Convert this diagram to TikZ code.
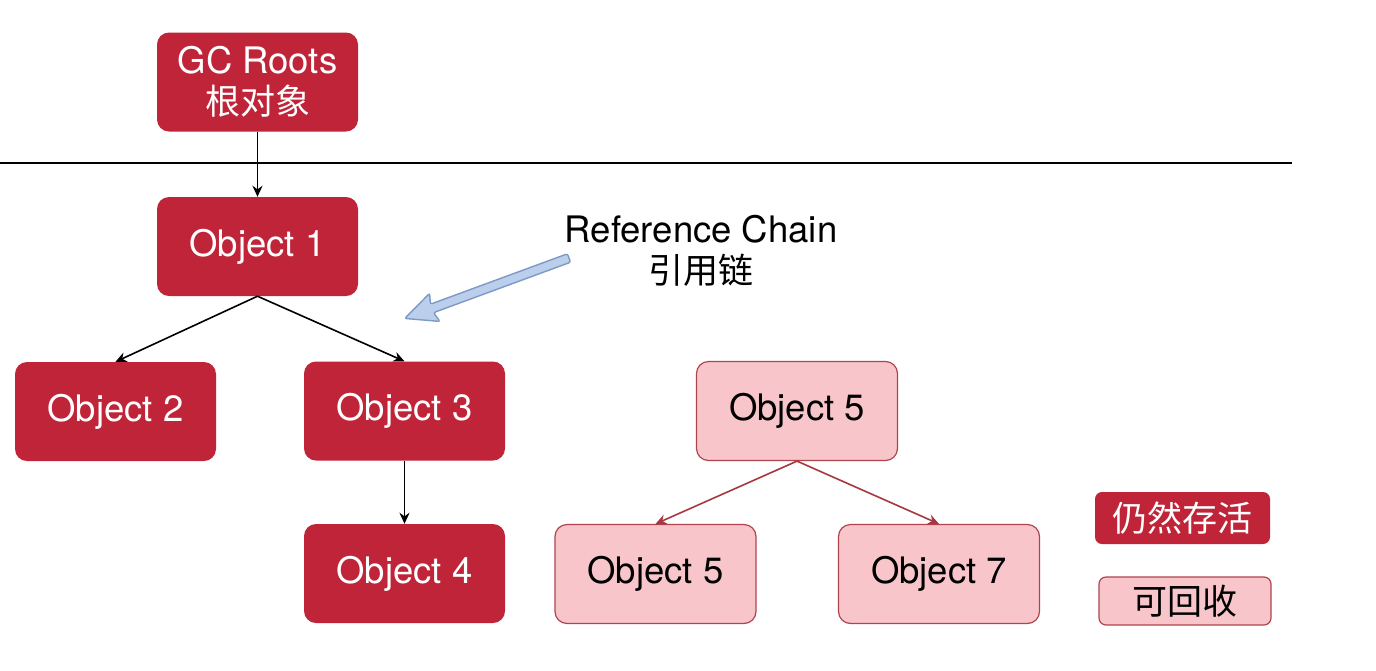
\documentclass[tikz,border=0pt]{standalone}
\usepackage{fontspec}
\setmainfont{TeX Gyre Heros}
\newfontfamily\cjk{Noto Sans CJK SC}
\usetikzlibrary{arrows.meta}
\definecolor{live}{HTML}{C02438}
\definecolor{deadfill}{HTML}{F8C6CA}
\definecolor{deadline}{HTML}{B0444C}
\definecolor{deadarrow}{HTML}{A8383F}
\definecolor{chainfill}{HTML}{BBCEEC}
\definecolor{chainline}{HTML}{7D99C6}
\tikzset{
  livebox/.style={fill=live, draw=none, rounded corners=12pt, text=white,
    minimum width=201pt, minimum height=99pt, inner sep=0pt, align=center,
    font=\fontsize{36.5}{41}\selectfont},
  deadbox/.style={fill=deadfill, draw=deadline, line width=1.2pt, rounded corners=12pt, text=black,
    minimum width=201pt, minimum height=99pt, inner sep=0pt, align=center,
    font=\fontsize{36.5}{41}\selectfont},
  legfont/.style={font=\cjk\fontsize{35}{40}\selectfont},
  blkarrow/.style={draw=black, line width=1.6pt, -{Stealth[length=11pt,width=10pt]}},
  pinkarrow/.style={draw=deadarrow, line width=1.6pt, -{Stealth[length=11pt,width=10pt]}},
}
\begin{document}
\begin{tikzpicture}[x=1pt,y=1pt]
\useasboundingbox[fill=white] (0,0) rectangle (1376,-670);
% separator line
\coordinate (sepL) at (0,-163);
\coordinate (sepR) at (1292,-163);
\draw[line width=1.5pt] (sepL) -- (sepR);
% nodes
\node[livebox] (gc) at (257.5,-82) {GC Roots\\{\cjk\fontsize{35}{41}\selectfont 根对象}};
\node[livebox] (o1) at (257.5,-246.5) {Object 1};
\node[livebox] (o2) at (115.5,-411.5) {Object 2};
\node[livebox] (o3) at (404.5,-411) {Object 3};
\node[livebox] (o4) at (404.5,-573.5) {Object 4};
\node[deadbox] (o5) at (797,-411) {Object 5};
\node[deadbox] (o5b) at (655.5,-574) {Object 5};
\node[deadbox] (o7) at (939,-574) {Object 7};
% legend
\node[livebox, minimum width=175pt, minimum height=52pt, rounded corners=7pt, legfont] (leglive) at (1182.5,-518) {仍然存活};
\node[deadbox, minimum width=172pt, minimum height=48pt, rounded corners=7pt, legfont] (legdead) at (1185,-601) {可回收};
% reference chain label
\node[align=center, font=\fontsize{36.5}{41}\selectfont] (chain) at (701,-251) {Reference Chain\\{\cjk\fontsize{35}{41}\selectfont 引用链}};
% arrows
\draw[blkarrow] (gc.south) -- (o1.north);
\draw[blkarrow] (o1.south) -- (o2.north);
\draw[blkarrow] (o1.south) -- (o3.north);
\draw[blkarrow] (o3.south) -- (o4.north);
\draw[pinkarrow] (o5.south) -- (o5b.north);
\draw[pinkarrow] (o5.south) -- (o7.north);
% blue hand-drawn arrow
\begin{scope}[shift={(569,-258)}, rotate=200.2]
  \draw[fill=chainfill, draw=chainline, line width=1.4pt, rounded corners=2pt]
    (0,4.5) -- (146,4.5) -- (143,15) -- (175,0) -- (143,-15) -- (146,-4.5) -- (0,-4.5) -- cycle;
\end{scope}
\end{tikzpicture}
\end{document}
